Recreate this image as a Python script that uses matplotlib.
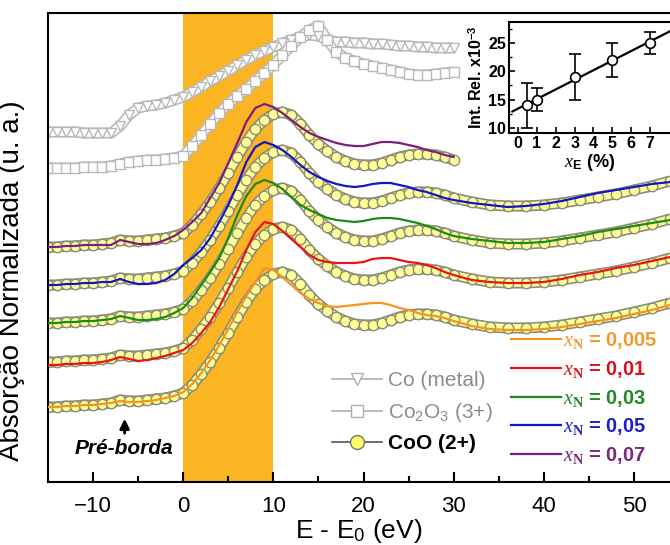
import numpy as np
import matplotlib
matplotlib.use("Agg")
from matplotlib import pyplot as plt
from matplotlib.lines import Line2D
from matplotlib.ticker import MultipleLocator

plt.rcParams['font.family'] = ['Liberation Sans', 'DejaVu Sans']
plt.rcParams['mathtext.fontset'] = 'custom'
plt.rcParams['mathtext.it'] = 'Liberation Serif:italic'
plt.rcParams['mathtext.bf'] = 'Liberation Serif:bold'
plt.rcParams['mathtext.rm'] = 'Liberation Sans:bold'

# energy grid (eV, relative to E0)
E = list(range(-15, 31)) + list(range(32, 55, 2))
E_short = list(range(-15, 31))

# CoO (2+) reference, normalized, before vertical offset
coo = [0.75, 0.75, 0.76, 0.76, 0.77, 0.77, 0.78, 0.79, 0.82, 0.81, 0.81, 0.82, 0.83, 0.84, 0.86, 0.89,
       0.97, 1.08, 1.20, 1.34, 1.49, 1.65, 1.80, 1.93, 2.02, 2.08, 2.10, 2.07, 1.98, 1.87, 1.78,
       1.71, 1.65, 1.61, 1.58, 1.57, 1.57, 1.59, 1.62, 1.65, 1.67, 1.68, 1.68, 1.67, 1.65, 1.62,
       1.58, 1.55, 1.54, 1.54, 1.55, 1.57, 1.60, 1.63, 1.66, 1.70, 1.74, 1.79]

# samples, before vertical offset
s005 = [0.75, 0.75, 0.76, 0.76, 0.77, 0.77, 0.78, 0.79, 0.81, 0.80, 0.80, 0.81, 0.82, 0.84, 0.86, 0.90,
        0.98, 1.09, 1.22, 1.37, 1.53, 1.70, 1.86, 2.00, 2.14, 2.12, 2.05, 1.97, 1.89, 1.83, 1.79,
        1.76, 1.75, 1.76, 1.77, 1.78, 1.79, 1.79, 1.77, 1.74, 1.72, 1.69, 1.67, 1.66, 1.64, 1.61,
        1.56, 1.53, 1.52, 1.52, 1.53, 1.55, 1.58, 1.61, 1.64, 1.68, 1.72, 1.77]
s01 = [0.72, 0.72, 0.73, 0.73, 0.74, 0.74, 0.75, 0.77, 0.80, 0.78, 0.76, 0.77, 0.79, 0.81, 0.84, 0.87,
       0.94, 1.04, 1.15, 1.30, 1.48, 1.66, 1.87, 2.05, 2.15, 2.13, 2.06, 1.98, 1.90, 1.82, 1.77,
       1.75, 1.74, 1.74, 1.74, 1.75, 1.78, 1.79, 1.79, 1.77, 1.75, 1.74, 1.72, 1.69, 1.65, 1.62,
       1.57, 1.55, 1.54, 1.54, 1.55, 1.58, 1.62, 1.65, 1.69, 1.72, 1.76, 1.80]
s03 = [0.75, 0.75, 0.76, 0.76, 0.77, 0.77, 0.78, 0.79, 0.82, 0.80, 0.78, 0.78, 0.79, 0.81, 0.85, 0.90,
       1.00, 1.13, 1.26, 1.40, 1.60, 1.83, 2.02, 2.14, 2.18, 2.15, 2.09, 2.01, 1.93, 1.88, 1.84,
       1.80, 1.78, 1.77, 1.76, 1.77, 1.79, 1.80, 1.80, 1.79, 1.77, 1.75, 1.72, 1.69, 1.65, 1.62,
       1.59, 1.57, 1.55, 1.55, 1.56, 1.59, 1.62, 1.66, 1.69, 1.72, 1.75, 1.78]
s05 = [0.75, 0.75, 0.76, 0.76, 0.77, 0.77, 0.78, 0.78, 0.81, 0.78, 0.76, 0.76, 0.77, 0.80, 0.86, 0.95,
       1.02, 1.10, 1.22, 1.38, 1.55, 1.75, 1.98, 2.13, 2.18, 2.15, 2.10, 2.03, 1.95, 1.88, 1.83,
       1.79, 1.76, 1.74, 1.73, 1.74, 1.76, 1.77, 1.77, 1.75, 1.73, 1.70, 1.68, 1.65, 1.62, 1.60,
       1.57, 1.55, 1.53, 1.54, 1.56, 1.59, 1.63, 1.67, 1.70, 1.73, 1.76, 1.78]
s07 = [0.75, 0.75, 0.76, 0.76, 0.77, 0.77, 0.77, 0.77, 0.82, 0.80, 0.78, 0.78, 0.79, 0.82, 0.86, 0.92,
       1.00, 1.09, 1.24, 1.39, 1.59, 1.79, 2.00, 2.14, 2.18, 2.15, 2.09, 2.02, 1.95, 1.89, 1.85,
       1.82, 1.79, 1.77, 1.76, 1.76, 1.78, 1.80, 1.80, 1.79, 1.77, 1.75, 1.72, 1.70, 1.67, 1.65]

# gray references (already at their plotted height)
co_metal = [3.50, 3.50, 3.50, 3.50, 3.49, 3.49, 3.49, 3.49, 3.56, 3.67, 3.74, 3.76, 3.77, 3.79, 3.82, 3.85,
            3.90, 3.95, 4.01, 4.06, 4.11, 4.17, 4.22, 4.27, 4.31, 4.35, 4.39, 4.42, 4.45, 4.47, 4.46,
            4.42, 4.40, 4.40, 4.39, 4.39, 4.38, 4.38, 4.37, 4.36, 4.36, 4.35, 4.35, 4.34, 4.34, 4.34]
co2o3 = [3.14, 3.14, 3.14, 3.14, 3.15, 3.15, 3.15, 3.16, 3.18, 3.20, 3.21, 3.22, 3.22, 3.23, 3.24, 3.26,
         3.36, 3.47, 3.58, 3.69, 3.78, 3.86, 3.93, 4.01, 4.09, 4.17, 4.27, 4.36, 4.45, 4.52, 4.56,
         4.42, 4.30, 4.24, 4.21, 4.18, 4.16, 4.14, 4.12, 4.10, 4.08, 4.07, 4.07, 4.08, 4.09, 4.10]

samples = [s005, s01, s03, s05, s07]
offsets = [0.0, 0.45, 0.84, 1.22, 1.60]
labels = ['0,005', '0,01', '0,03', '0,05', '0,07']
line_colors = ['#f7941d', '#e8141c', '#1b8a1b', '#1515c8', '#7d1f7d']
text_colors = ['#f39a2e', '#d8141c', '#1f8a2a', '#2020c8', '#7a2a7a']

# inset data
xE = [0.5, 1, 3, 5, 7]
int_rel = [14, 15, 19, 22, 25]
int_err = [4, 2, 4, 3, 2]

fig = plt.figure(figsize=(6.7, 5.45), dpi=100)
ax = fig.add_axes([48 / 670, 63 / 545, 622 / 670, 469 / 545])

ax.axvspan(0, 10, color='#fbb422', lw=0, zorder=0)

Ea = np.array(E)
Es = np.array(E_short)

def tube(x, y, fill, edge, marker):
    ax.plot(x, y, color=edge, lw=8, solid_capstyle='butt', zorder=2)
    ax.plot(x, y, color=fill, lw=5.6, solid_capstyle='butt', zorder=2.1)
    ax.plot(x, y, ls='none', marker=marker, ms=7.5, mfc=fill, mec=edge, mew=1.0, zorder=2.2)

tube(Es, co_metal, 'white', '#b8b8b8', 'v')
tube(Es, co2o3, 'white', '#b8b8b8', 's')

for i, (s, off, c) in enumerate(zip(samples, offsets, line_colors)):
    if len(s) == len(E):
        x = Ea
        base = np.array(coo)
    else:
        x = Es
        base = np.array(coo[:len(s)])
    tube(x, base + off, '#ffff99', '#8c8c78', 'o')
    ax.plot(x, np.array(s) + off, color=c, lw=1.6, zorder=3)

ax.set_xlim(-15, 54)
ax.set_ylim(0, 4.69)
ax.set_yticks([])
ax.xaxis.set_major_locator(MultipleLocator(10))
ax.xaxis.set_minor_locator(MultipleLocator(5))
ax.tick_params(axis='x', which='major', direction='in', length=7, width=1.5, labelsize=16, pad=10)
ax.tick_params(axis='x', which='minor', direction='in', length=4, width=1.5)
for sp in ['left', 'top', 'bottom']:
    ax.spines[sp].set_linewidth(1.5)
ax.spines['right'].set_visible(False)

ax.set_ylabel('Absorção Normalizada (u. a.)', fontsize=20)
ax.yaxis.set_label_coords(-0.037, 0.43)
ax.set_xlabel('E - E$_{\\mathregular{0}}$ (eV)', fontsize=19)
ax.xaxis.set_label_coords(0.5, -0.074)

ax.annotate('', xy=(-6.5, 0.66), xytext=(-6.5, 0.46),
            arrowprops=dict(arrowstyle='-|>', lw=2, color='black', mutation_scale=14))
ax.text(-6.6, 0.34, 'Pré-borda', fontsize=15, fontweight='bold', fontstyle='italic',
        ha='center', va='center')

# reference legend
ref_handles = [
    Line2D([], [], color='#b0b0b0', lw=1.2, marker='v', ms=9, mfc='white', mec='#b0b0b0'),
    Line2D([], [], color='#b0b0b0', lw=1.2, marker='s', ms=8, mfc='white', mec='#b0b0b0'),
    Line2D([], [], color='#555555', lw=1.2, marker='o', ms=10, mfc='#ffff66', mec='#777766'),
]
leg1 = ax.legend(ref_handles, ['Co (metal)', 'Co$_{\\mathregular{2}}$O$_{\\mathregular{3}}$ (3+)', 'CoO (2+)'],
                 loc='upper left', bbox_to_anchor=(0.44, 0.258), frameon=False, fontsize=15,
                 handlelength=2.4, handletextpad=0.3, labelspacing=0.5, borderpad=0)
for t in leg1.get_texts()[:2]:
    t.set_color('#8c8c8c')
leg1.get_texts()[2].set_fontweight('bold')
ax.add_artist(leg1)

smp_handles = [Line2D([], [], color=c, lw=1.6) for c in line_colors]
leg2 = ax.legend(smp_handles, ['$\\mathit{x}_{\\mathbf{N}}$ = ' + l for l in labels],
                 loc='upper left', bbox_to_anchor=(0.728, 0.345), frameon=False, fontsize=14.5,
                 handlelength=2.5, handletextpad=0.1, labelspacing=0.38, borderpad=0)
for t, c in zip(leg2.get_texts(), text_colors):
    t.set_color(c)
    t.set_fontweight('bold')

# inset
ins = fig.add_axes([509 / 670, 412 / 545, 161 / 670, 111 / 545])
fit = np.polyfit(xE, int_rel, 1)
xf = np.array([-0.3, 8.1])
ins.plot(xf, np.polyval(fit, xf), color='black', lw=1.6, zorder=2)
ins.errorbar(xE, int_rel, yerr=int_err, fmt='o', ms=7, mfc='white', mec='black', mew=1.2,
             ecolor='black', elinewidth=1.2, capsize=4, capthick=1.2, zorder=3)
ins.set_xlim(-0.48, 8.06)
ins.set_ylim(9.1, 28.7)
ins.set_xticks(range(0, 8))
ins.set_yticks([10, 15, 20, 25])
ins.yaxis.set_minor_locator(MultipleLocator(2.5))
ins.tick_params(which='major', direction='in', length=4, width=1.2, labelsize=11.5, pad=2)
ins.tick_params(which='minor', direction='in', length=2, width=1)
for t in ins.get_xticklabels() + ins.get_yticklabels():
    t.set_fontweight('bold')
for sp in ['left', 'top', 'bottom']:
    ins.spines[sp].set_linewidth(1.5)
ins.spines['right'].set_visible(False)
ins.set_ylabel('Int. Rel. x10$^{\\mathregular{-3}}$', fontsize=11.5, fontweight='bold', labelpad=2)
ins.set_xlabel('$\\mathit{x}_{\\mathrm{E}}$ (%)', fontsize=13, fontweight='bold', labelpad=1)

fig.savefig('out.png', dpi=100)
